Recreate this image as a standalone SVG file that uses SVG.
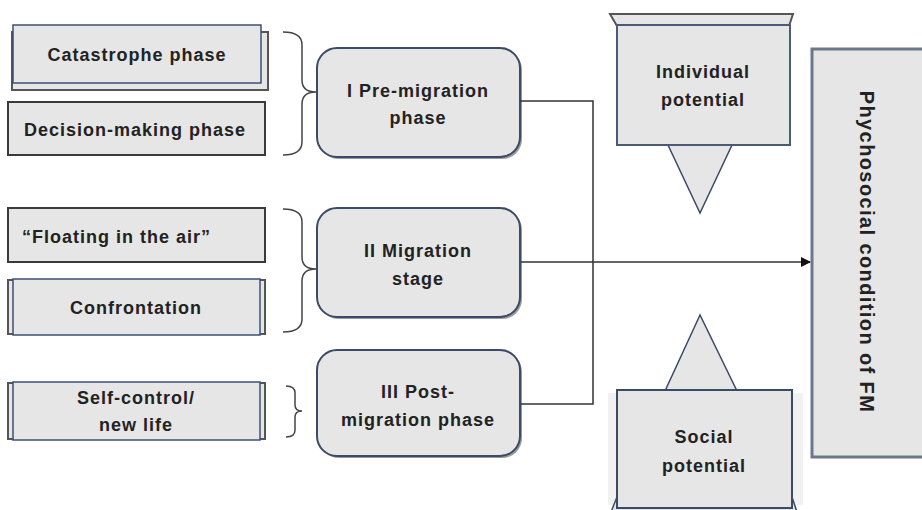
<svg xmlns="http://www.w3.org/2000/svg" width="922" height="510" viewBox="0 0 922 510">
<defs>
<style>
.t{font-family:"Liberation Sans",Arial,sans-serif;font-weight:bold;font-size:18px;fill:#222;letter-spacing:1px;text-anchor:middle}
.box{fill:#e6e6e6;stroke:#3a3a3a;stroke-width:2}
.fbox{fill:#e6e6e6;stroke:#3b5077;stroke-width:1.5}
.shadow{fill:#e6e6e6;stroke:#555;stroke-width:2}
.node{fill:#e6e6e6;stroke:#3b4a66;stroke-width:2}
.nshadow{fill:#9a9a9a}
.br{fill:none;stroke:#444;stroke-width:1.5}
.con{fill:none;stroke:#333;stroke-width:1.5}
</style>
<marker id="arr" markerWidth="10" markerHeight="10" refX="9" refY="5" orient="auto" markerUnits="userSpaceOnUse">
<path d="M0,0 L10,5 L0,10 z" fill="#111"/>
</marker>
</defs>
<rect width="922" height="510" fill="#fff"/>

<g id="catastrophe">
<rect class="shadow" x="12" y="32" width="256" height="58"/>
<rect class="fbox" x="13" y="25" width="248" height="58"/>
<text class="t" x="137" y="61">Catastrophe phase</text>
</g>
<g id="decision">
<rect class="box" x="8" y="102" width="257" height="53"/>
<text class="t" x="135" y="136">Decision-making phase</text>
</g>
<g id="floating">
<rect class="box" x="8" y="208" width="257" height="54"/>
<text class="t" x="22" y="243" style="text-anchor:start">“Floating in the air”</text>
</g>
<g id="confrontation">
<rect class="shadow" x="8" y="280" width="257" height="54"/>
<rect class="fbox" x="13" y="279" width="247" height="56"/>
<text class="t" x="136" y="314">Confrontation</text>
</g>
<g id="selfcontrol">
<rect class="shadow" x="8" y="383" width="257" height="56"/>
<rect class="fbox" x="13" y="382" width="247" height="58"/>
<text class="t" x="136" y="404">Self-control/</text>
<text class="t" x="136" y="431">new life</text>
</g>

<g id="brackets">
<path class="br" d="M283,32 Q302,32 302,45 L302,80 Q302,92 316,92 Q302,92 302,104 L302,142 Q302,155 283,155"/>
<path class="br" d="M283,209 Q302,209 302,222 L302,257 Q302,269 316,269 Q302,269 302,281 L302,319 Q302,332 283,332"/>
<path class="br" d="M286,386 Q295,386 295,393 L295,405 Q295,411 302,411 Q295,411 295,417 L295,430 Q295,437 286,437"/>
</g>

<g id="pre">
<rect class="nshadow" x="319" y="50" width="203" height="109" rx="20"/>
<rect class="node" x="317" y="48" width="203" height="109" rx="20"/>
<text class="t" x="418" y="97">I Pre-migration</text>
<text class="t" x="418" y="124">phase</text>
</g>
<g id="migration">
<rect class="nshadow" x="319" y="210" width="203" height="109" rx="20"/>
<rect class="node" x="317" y="208" width="203" height="109" rx="20"/>
<text class="t" x="418" y="257">II Migration</text>
<text class="t" x="418" y="285">stage</text>
</g>
<g id="post">
<rect class="nshadow" x="319" y="352" width="203" height="106" rx="20"/>
<rect class="node" x="317" y="350" width="203" height="106" rx="20"/>
<text class="t" x="418" y="398">III Post-</text>
<text class="t" x="418" y="426">migration phase</text>
</g>

<g id="individual">
<polygon points="610,14 793,14 789,26 617,26" fill="#e6e6e6" stroke="#555" stroke-width="2"/>
<polygon points="668,145 732,145 700,213" fill="#e6e6e6" stroke="#3b4a66" stroke-width="1.5"/>
<rect x="617" y="25" width="173" height="120" fill="#e6e6e6" stroke="#4a5a78" stroke-width="2"/>
<text class="t" x="703" y="78">Individual</text>
<text class="t" x="703" y="106">potential</text>
</g>

<g id="social">
<polygon points="700,315 665,391 737,391" fill="#e6e6e6" stroke="#3b4a66" stroke-width="1.5"/>
<rect x="608" y="393" width="195" height="112" fill="#f1f1f1"/>
<polygon points="617,497 792,497 797,512 611,512" fill="#e6e6e6" stroke="#3b4a66" stroke-width="1.5"/>
<rect x="617" y="390" width="175" height="118" fill="#e6e6e6" stroke="#3b4a66" stroke-width="2"/>
<text class="t" x="704" y="443">Social</text>
<text class="t" x="704" y="472">potential</text>
</g>

<g id="condition">
<rect x="812" y="49" width="120" height="408" fill="#e6e6e6" stroke="#6b788c" stroke-width="3"/>
<text class="t" transform="translate(860,252) rotate(90)" style="font-size:20px;letter-spacing:1.4px">Phychosocial condition of FM</text>
</g>

<g id="connectors">
<polyline class="con" points="520,101 593,101 593,404 521,404"/>
<line class="con" x1="521" y1="262" x2="810" y2="262" marker-end="url(#arr)"/>
</g>
</svg>
